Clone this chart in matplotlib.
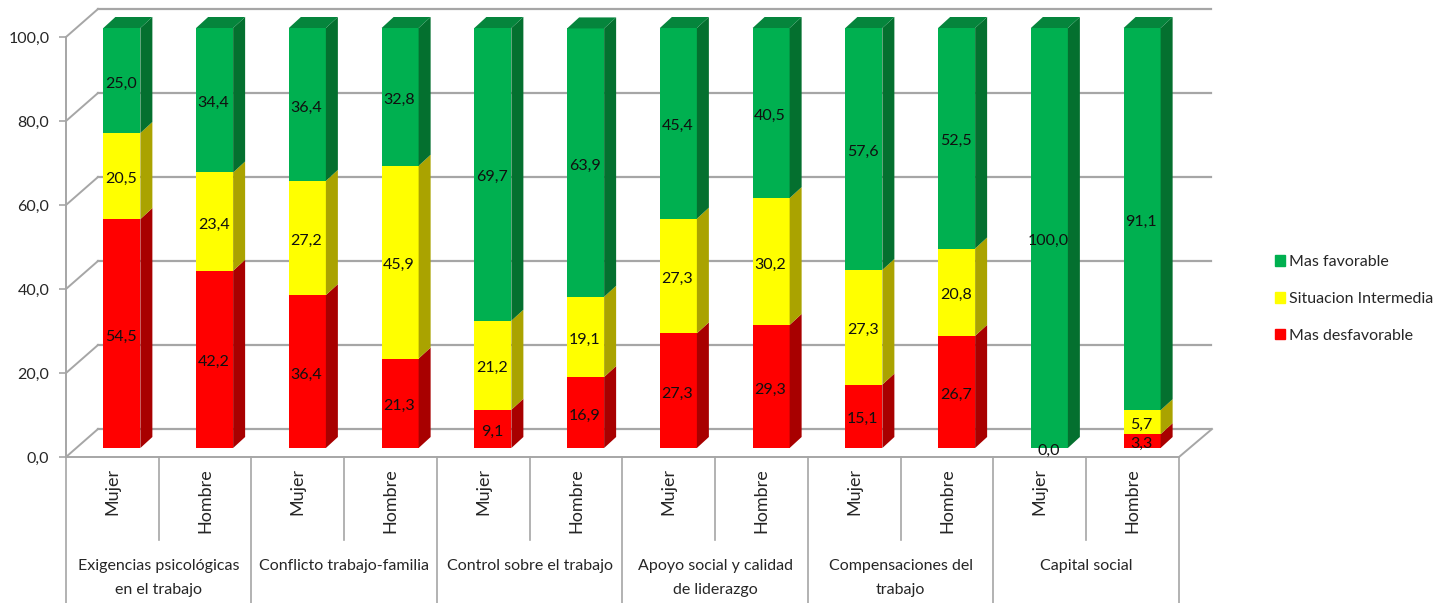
import matplotlib
matplotlib.use("Agg")
import matplotlib.pyplot as plt
from matplotlib.patches import Polygon, Patch
from matplotlib.transforms import Affine2D

plt.rcParams['font.family'] = ['Lato', 'DejaVu Sans']

# datos
grupos = ["Exigencias psicológicas\nen el trabajo", "Conflicto trabajo-familia",
          "Control sobre el trabajo", "Apoyo social y calidad\nde liderazgo",
          "Compensaciones del\ntrabajo", "Capital social"]
sexo = ["Mujer", "Hombre"] * 6
desfavorable = [54.5, 42.2, 36.4, 21.3, 9.1, 16.9, 27.3, 29.3, 15.1, 26.7, 0.0, 3.3]
intermedia = [20.5, 23.4, 27.2, 45.9, 21.2, 19.1, 27.3, 30.2, 27.3, 20.8, 0.0, 5.7]
favorable = [25.0, 34.4, 36.4, 32.8, 69.7, 63.9, 45.4, 40.5, 57.6, 52.5, 100.0, 91.1]
yticks = [0, 20, 40, 60, 80, 100]

W, H = 1452, 603
fig = plt.figure(figsize=(W / 100, H / 100), dpi=100)
ax = fig.add_axes([66 / W, 1 - 457 / H, (1179 - 66) / W, 420 / H])
ax.set_xlim(-0.5, 11.5)
ax.set_ylim(0, 100)

gris = "#a6a6a6"
pxx = (1179 - 66) / 12  # px por categoria
pxy = 4.2  # px por unidad
barra = ax.transData + Affine2D().translate(9.5, 9)  # plano de las barras
etiqueta = ax.transData + Affine2D().translate(8.5, 6)  # textos de las barras
fondo = ax.transData + Affine2D().translate(32, 28)  # pared del fondo
ancho = 37 / pxx
dx, dy = 12 / pxx, 11 / pxy

# pared y suelo
for v in yticks:
    ax.plot([-0.5, 11.5], [v, v], transform=fondo, color=gris, lw=1.6, clip_on=False, zorder=1)
    ax.plot([-0.5, -0.5 + 32 / pxx], [v, v + 28 / pxy], color=gris, lw=1.4, clip_on=False, zorder=1)
ax.plot([11.5, 11.5 + 33 / pxx], [0, 28 / pxy], color=gris, lw=1.4, clip_on=False, zorder=1)

series = [(desfavorable, "#ff0000", "#a80000", "Mas desfavorable"),
          (intermedia, "#ffff00", "#aaa300", "Situacion Intermedia"),
          (favorable, "#00b050", "#04702f", "Mas favorable")]

base = [0.0] * 12
for valores, color, oscuro, nombre in series:
    for i, v in enumerate(valores):
        b = base[i]
        if v == 0 and nombre == "Situacion Intermedia":
            continue  # en el original solo se ve un 0,0
        top = min(b + v, 100)
        der = i + ancho / 2
        if v > 0:
            ax.bar(i, top - b, ancho, bottom=b, color=color, transform=barra, clip_on=False, zorder=3)
            lado = Polygon([(der, b), (der + dx, b + dy), (der + dx, top + dy), (der, top)],
                           facecolor=oscuro, edgecolor="none", transform=barra, clip_on=False, zorder=3)
            ax.add_patch(lado)
        ax.text(i, b + v / 2, f"{v:.1f}".replace(".", ","), transform=etiqueta, ha="center", va="center",
                fontsize=11.5, color="#101010", zorder=5, clip_on=False)
        base[i] = b + v

# tapa superior de cada barra
for i in range(12):
    izq, der = i - ancho / 2, i + ancho / 2
    top = min(base[i], 100)
    ax.add_patch(Polygon([(izq, top), (izq + dx, top + dy), (der + dx, top + dy), (der, top)],
                         facecolor="#05853c", edgecolor="none", transform=barra, clip_on=False, zorder=3))

# ejes
for s in ["top", "right"]:
    ax.spines[s].set_visible(False)
for s in ["left", "bottom"]:
    ax.spines[s].set_color(gris)
    ax.spines[s].set_linewidth(1.4)
ax.patch.set_alpha(0)
ax.set_yticks(yticks)
ax.set_yticklabels([f"{v:.1f}".replace(".", ",") for v in yticks], fontsize=11.5, color="#262626")
ax.tick_params(axis="y", length=5, color=gris, width=1.2, pad=7)
ax.set_xticks(range(12))
ax.set_xticklabels(sexo, rotation=90, fontsize=13, color="#262626")
ax.tick_params(axis="x", length=0, pad=8)

# divisiones bajo el eje
for k in range(13):
    fin = -146 / 420 if k % 2 == 0 else -83 / 420
    ax.plot([k - 0.5, k - 0.5], [0, fin], transform=ax.get_xaxis_transform(), color=gris, lw=1.2, clip_on=False)

for k, g in enumerate(grupos):
    ax.text(2 * k + 0.5, -102 / 420, g, transform=ax.get_xaxis_transform(), ha="center", va="top",
            fontsize=11.5, color="#262626", linespacing=1.9)

handles = [Patch(color=s[1], label=s[3]) for s in reversed(series)]
fig.legend(handles=handles, loc="center left", bbox_to_anchor=(1275 / W, 1 - 299 / H), frameon=False,
           fontsize=11.5, handlelength=0.63, handleheight=0.63, handletextpad=0.25, labelspacing=1.42,
           borderpad=0, borderaxespad=0, labelcolor="#262626")

fig.savefig("out.png", dpi=100, facecolor="white")
